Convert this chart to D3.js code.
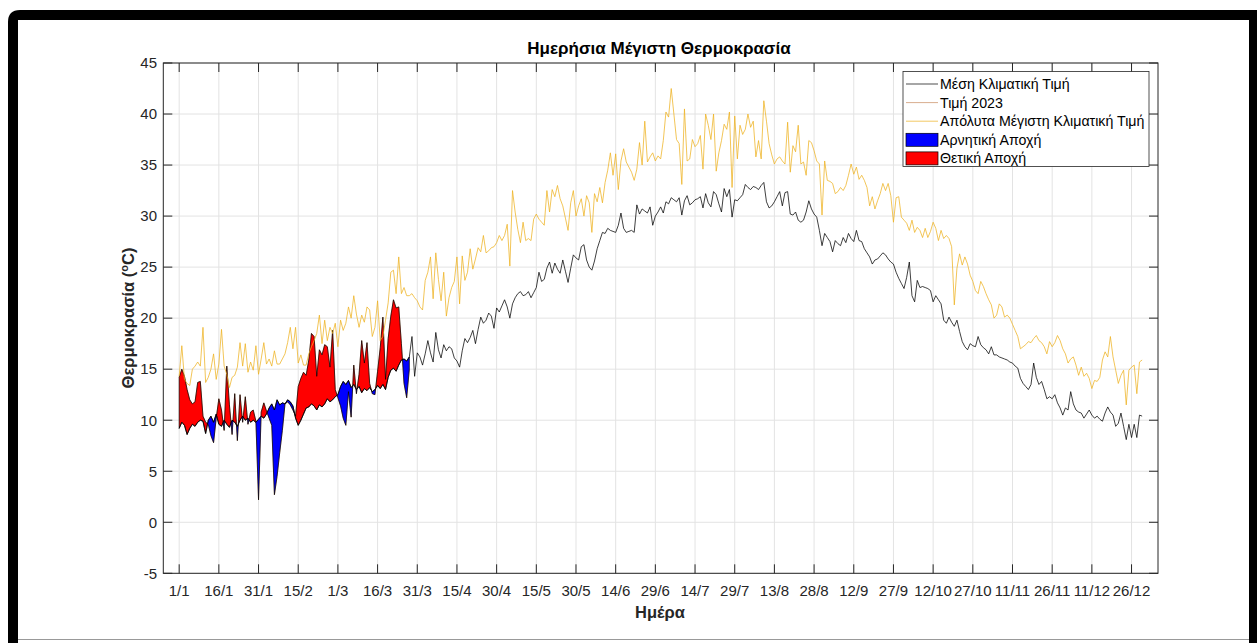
<!DOCTYPE html>
<html>
<head>
<meta charset="utf-8">
<script src="https://cdn.jsdelivr.net/npm/d3@7"></script>
<style>
  body { margin: 0; background: #fff; }
  svg { display: block; }
  text { font-family: "Liberation Sans", Arial, Helvetica, sans-serif; }
</style>
</head>
<body>
<svg width="1257" height="643"></svg>
<script>
// days 1..365, values
let meanClim = [
 9.2,9.8,9.5,8.6,9.2,9.6,9.4,9.8,10.0,9.9, 8.7,10.0,10.4,9.8,10.6,9.6,9.4,10.0,9.6,9.3,
 10.0,9.8,9.4,10.0,10.4,10.0,10.2,9.8,10.0,9.8, 10.1,10.4,10.2,10.6,11.2,11.6,11.0,12.0,11.5,11.7,
 11.6,12.0,11.8,11.4,10.2,9.5,10.0,10.6,11.2,11.3, 11.6,11.4,11.0,11.5,11.3,11.6,12.1,11.8,12.0,12.3,
 12.5,13.3,13.8,13.5,13.9,13.2,13.5,13.0,13.3,12.7, 13.1,12.9,13.2,12.8,13.0,13.4,13.1,13.5,13.0,14.2,
 14.9,15.1,14.8,15.4,15.9,16.0,15.8,16.2,18.2,14.3, 16.6,16.2,15.4,16.5,17.8,16.6,15.7,18.6,16.9,16.1,
 17.4,16.8,17.2,17.0,16.1,15.8,15.2,16.8,18.0,17.6, 18.1,18.8,17.5,18.9,20.1,19.5,19.8,20.5,20.2,19.0,
 21.0,20.6,21.2,21.8,21.1,20.0,21.4,22.0,22.4,22.6, 22.2,22.3,22.6,22.0,22.5,23.0,24.5,23.6,23.8,24.9,
 25.5,24.4,25.4,24.8,24.4,25.7,24.6,23.5,24.9,26.2, 25.9,25.7,27.0,27.2,25.7,25.0,24.7,25.6,26.8,27.6,
 28.4,28.3,28.8,28.6,28.5,28.4,29.1,30.3,28.8,28.4, 28.5,28.6,28.4,31.1,30.2,30.7,30.5,30.3,30.9,29.1,
 30.0,30.4,30.9,30.3,31.4,31.2,31.8,31.6,31.4,31.8, 30.1,31.5,32.0,31.1,31.3,31.6,31.7,31.9,30.8,32.2,
 31.3,30.9,32.4,32.1,31.2,30.4,32.7,31.9,32.6,29.9, 31.6,31.5,31.8,32.1,33.1,32.8,32.6,32.9,32.8,32.6,
 33.0,33.3,31.4,30.8,31.0,31.4,31.9,32.4,31.0,32.3, 32.4,30.2,30.1,30.4,29.6,29.4,29.6,30.4,31.5,30.7,
 30.2,29.9,28.6,27.1,28.3,27.9,27.5,26.5,27.6,27.3, 27.1,27.9,27.4,28.3,27.8,27.5,28.6,27.6,27.5,26.8,
 26.4,26.0,25.3,25.7,25.8,26.1,26.4,26.2,25.8,25.5, 25.3,24.5,23.9,23.4,22.9,24.0,25.5,22.2,21.6,23.7,
 23.0,23.1,23.0,22.9,22.7,21.6,22.2,21.8,21.4,19.8, 19.5,20.1,19.6,19.2,19.8,18.7,17.7,17.2,16.9,17.5,
 17.3,17.2,18.2,17.4,17.1,16.9,16.5,17.2,16.4,16.4, 16.2,16.1,16.0,15.9,15.7,15.6,15.3,15.1,14.1,13.6,
 13.3,13.0,13.5,15.6,14.2,13.5,13.8,13.0,12.1,12.3, 12.1,12.5,11.7,11.2,10.5,11.2,11.0,12.8,11.6,11.0,
 10.8,10.7,10.2,10.6,11.0,10.5,10.2,10.4,10.1,9.9, 10.7,11.3,10.8,10.5,9.4,9.7,10.7,9.4,8.1,9.6,
 8.3,9.6,8.3,10.5,10.4
];

let maxClim = [
 14.3,17.3,14.0,13.6,13.4,15.0,15.3,15.7,15.3,19.1, 13.7,14.2,15.0,16.5,14.0,15.5,18.9,15.3,14.5,13.2,
 14.2,14.4,15.2,17.6,15.3,17.5,14.7,15.7,14.9,17.3, 14.5,16.0,17.6,15.5,16.0,15.3,16.8,15.5,15.5,16.0,
 16.5,17.6,19.1,17.0,19.1,15.6,16.4,15.4,15.4,16.5, 17.2,17.8,18.5,20.3,17.5,19.8,17.8,19.1,18.5,19.5,
 17.2,19.8,18.8,19.5,21.1,20.0,22.2,20.4,19.1,20.3, 19.6,21.1,20.8,18.2,19.1,21.7,17.8,18.2,19.8,21.5,
 24.5,24.7,22.4,26.0,22.4,23.0,22.2,22.2,22.4,22.0, 21.7,21.1,20.8,23.7,24.5,26.0,21.9,26.4,23.8,21.7,
 24.5,20.2,22.0,23.0,23.6,26.0,21.4,26.1,23.7,24.5, 26.8,24.8,25.8,26.9,26.5,28.1,26.4,26.6,26.9,27.0,
 27.4,28.1,27.6,28.1,29.2,25.1,32.5,30.4,28.7,27.4, 29.4,27.6,27.8,27.6,29.7,30.2,29.7,29.4,29.1,32.5,
 30.4,32.6,31.9,33.0,31.7,31.0,29.8,28.6,31.3,32.5, 30.0,31.0,31.7,30.0,32.0,31.3,28.4,32.2,31.4,32.8,
 31.3,33.3,34.5,36.2,34.0,36.1,32.6,35.4,36.6,35.3, 34.8,34.3,33.5,34.6,37.2,35.0,39.3,35.3,35.8,36.2,
 35.4,35.9,35.6,37.4,40.2,39.7,42.5,40.0,37.5,37.1, 33.1,40.5,35.4,35.6,37.5,36.8,37.1,37.9,34.6,40.0,
 38.9,37.5,40.0,34.4,36.2,37.4,39.0,38.5,40.2,32.8, 39.8,35.6,38.9,38.0,38.5,40.0,38.7,39.3,35.8,37.4,
 35.6,41.3,39.3,37.1,36.0,35.1,35.6,35.8,35.4,35.1, 39.2,34.3,36.9,36.3,38.9,35.1,35.3,34.0,37.4,37.2,
 36.4,35.4,35.1,30.1,35.4,33.5,33.4,33.2,32.2,32.4, 32.8,32.5,33.0,34.0,35.1,34.1,34.8,33.6,34.0,33.5,
 32.8,31.0,31.9,30.7,31.5,32.2,33.2,32.5,33.2,32.0, 29.4,31.8,31.9,29.9,29.6,29.3,28.6,29.6,28.4,28.9,
 28.6,27.9,28.8,27.9,28.5,29.4,28.8,27.6,28.6,27.8, 28.1,27.8,27.0,21.3,24.9,26.3,25.2,26.0,25.3,24.2,
 23.6,22.7,22.4,23.6,23.1,22.4,21.8,21.3,20.0,20.3, 21.4,21.1,20.1,20.3,20.0,19.4,18.8,18.2,17.0,17.2,
 17.4,17.7,17.6,18.0,18.3,17.8,17.6,17.2,16.5,17.7, 17.2,17.6,18.3,17.8,17.0,16.5,15.6,16.0,16.2,15.4,
 14.4,15.2,14.3,14.6,14.1,13.1,13.9,13.8,14.2,15.9, 16.7,16.2,18.2,16.2,14.9,13.6,14.4,14.9,11.5,14.9,
 15.2,15.4,12.6,15.7,15.9
];

// 2023, days 1..88
let val2023 = [
 14.2,15.0,14.3,13.0,12.0,11.6,11.8,13.7,13.8,10.4, 9.8,9.6,8.5,7.8,10.2,12.1,11.0,9.0,15.3,11.5,
 8.6,12.6,8.0,12.5,9.8,12.3,9.6,10.8,11.0,9.9, 2.2,10.8,11.7,10.9,10.2,9.5,2.7,4.5,6.8,9.0,
 11.6,11.8,11.5,11.0,10.4,13.3,14.1,14.7,14.4,15.9, 18.5,18.2,14.3,16.9,16.4,17.4,17.2,15.2,18.8,13.0,
 12.2,11.4,10.2,9.5,12.8,10.3,15.4,12.6,14.5,17.8, 15.6,17.6,13.6,12.6,12.5,14.8,17.1,20.1,14.0,18.0,
 20.2,21.8,21.0,21.1,17.5,13.6,12.2,15.0
];

let tickDays = d3.range(1, 362, 15);
let tickLabels = ["1/1","16/1","31/1","15/2","1/3","16/3","31/3","15/4","30/4","15/5","30/5","14/6","29/6",
  "14/7","29/7","13/8","28/8","12/9","27/9","12/10","27/10","11/11","26/11","11/12","26/12"];
let yTicks = d3.range(-5, 46, 5);

let legendNames = ["Μέση Κλιματική Τιμή","Τιμή 2023","Απόλυτα Μέγιστη Κλιματική Τιμή","Αρνητική Αποχή","Θετική Αποχή"];
let colMean = "#000000", col2023 = "#C98A5E", colMax = "#EDB120", colNeg = "#0000FF", colPos = "#FF0000";

let svg = d3.select("svg");
let pLeft = 163.3, pRight = 1158, pTop = 63, pBottom = 573.3;

// outer frame of the screenshot
svg.append("path")
  .attr("d", "M8,643 L8,22 Q8,10 20,10 L1257,10 L1257,20 L18,20 L18,643 Z")
  .attr("fill", "#000");
svg.append("rect").attr("x", 1249).attr("y", 10).attr("width", 8).attr("height", 633).attr("fill", "#000");
svg.append("line").attr("x1", 18).attr("x2", 1249).attr("y1", 639.5).attr("y2", 639.5)
  .attr("stroke", "#999").attr("stroke-width", 1);

let x = d3.scaleLinear().domain([-5, 371]).range([pLeft, pRight]);
let y = d3.scaleLinear().domain([-5, 45]).range([pBottom, pTop]);

// grid
let grid = svg.append("g").attr("stroke", "#e3e3e3").attr("stroke-width", 1);
grid.selectAll(".gx").data(tickDays).enter().append("line")
  .attr("x1", d => x(d)).attr("x2", d => x(d)).attr("y1", pTop).attr("y2", pBottom);
grid.selectAll(".gy").data(yTicks).enter().append("line")
  .attr("x1", pLeft).attr("x2", pRight).attr("y1", d => y(d)).attr("y2", d => y(d));

let line = d3.line().x(d => x(d[0])).y(d => y(d[1]));
let plot = svg.append("g");

plot.append("path").datum(val2023.map((v, i) => [i + 1, v]))
  .attr("d", line).attr("fill", "none").attr("stroke", col2023).attr("stroke-width", 0.7);

// fills between 2023 and the mean, split where they cross
let runs = [];
let cur = null;
for (let i = 0; i < val2023.length; i++) {
  let a = val2023[i], m = meanClim[i], s = a >= m ? 1 : -1;
  if (cur && s !== cur.sign) {
    let pa = val2023[i - 1], pm = meanClim[i - 1];
    let t = (pa - pm) / ((pa - pm) - (a - m));
    let cv = pm + t * (m - pm);
    let cd = i + t;
    cur.pts.push({ d: cd, a: cv, m: cv });
    runs.push(cur);
    cur = { sign: s, pts: [{ d: cd, a: cv, m: cv }] };
  }
  if (!cur) cur = { sign: s, pts: [] };
  cur.pts.push({ d: i + 1, a: a, m: m });
}
runs.push(cur);

let area = d3.area().x(d => x(d.d)).y0(d => y(d.m)).y1(d => y(d.a));
plot.selectAll(".fill").data(runs).enter().append("path")
  .attr("d", r => area(r.pts) + "Z")
  .attr("fill", r => r.sign > 0 ? colPos : colNeg)
  .attr("stroke", "#000").attr("stroke-width", 0.7).attr("stroke-linejoin", "round");

plot.append("path").datum(maxClim.map((v, i) => [i + 1, v]))
  .attr("d", line).attr("fill", "none").attr("stroke", colMax).attr("stroke-width", 0.75);
plot.append("path").datum(meanClim.map((v, i) => [i + 1, v]))
  .attr("d", line).attr("fill", "none").attr("stroke", colMean).attr("stroke-width", 0.75);

// axes box with inward ticks on all sides
let axc = "#262626", tl = 9;
let ax = svg.append("g").attr("stroke", axc).attr("stroke-width", 1);
ax.append("rect").attr("x", pLeft).attr("y", pTop).attr("width", pRight - pLeft).attr("height", pBottom - pTop)
  .attr("fill", "none");
tickDays.forEach(d => {
  ax.append("line").attr("x1", x(d)).attr("x2", x(d)).attr("y1", pBottom).attr("y2", pBottom - tl);
  ax.append("line").attr("x1", x(d)).attr("x2", x(d)).attr("y1", pTop).attr("y2", pTop + tl);
});
yTicks.forEach(v => {
  ax.append("line").attr("x1", pLeft).attr("x2", pLeft + tl).attr("y1", y(v)).attr("y2", y(v));
  ax.append("line").attr("x1", pRight).attr("x2", pRight - tl).attr("y1", y(v)).attr("y2", y(v));
});

svg.append("g").selectAll("text").data(tickDays).enter().append("text")
  .attr("x", d => x(d)).attr("y", 596).attr("text-anchor", "middle")
  .attr("font-size", 15).attr("fill", axc).text((d, i) => tickLabels[i]);
svg.append("g").selectAll("text").data(yTicks).enter().append("text")
  .attr("x", 157).attr("y", d => y(d) + 5.3).attr("text-anchor", "end")
  .attr("font-size", 15).attr("fill", axc).text(d => d);

// labels
svg.append("text").attr("x", 659).attr("y", 54).attr("text-anchor", "middle")
  .attr("font-size", 17).attr("font-weight", "bold").attr("fill", "#000")
  .text("Ημερήσια Μέγιστη Θερμοκρασία");
svg.append("text").attr("x", 660).attr("y", 618).attr("text-anchor", "middle")
  .attr("font-size", 16.5).attr("font-weight", "bold").attr("fill", axc).text("Ημέρα");
let yl = svg.append("text").attr("transform", "translate(134,318) rotate(-90)")
  .attr("text-anchor", "middle").attr("font-size", 16.5).attr("font-weight", "bold").attr("fill", axc);
yl.append("tspan").text("Θερμοκρασία (");
yl.append("tspan").attr("font-size", 11).attr("dy", -6).text("o");
yl.append("tspan").attr("dy", 6).text("C)");

// legend
let lg = svg.append("g");
lg.append("rect").attr("x", 903).attr("y", 71.5).attr("width", 246).attr("height", 95)
  .attr("fill", "#fff").attr("stroke", axc).attr("stroke-width", 0.8);
let rowY = d => 84 + d * 18.6;
let kinds = [colMean, col2023, colMax, colNeg, colPos];
kinds.forEach((c, i) => {
  if (i < 3) {
    lg.append("line").attr("x1", 906).attr("x2", 938).attr("y1", rowY(i)).attr("y2", rowY(i))
      .attr("stroke", c).attr("stroke-width", 0.7);
  } else {
    lg.append("rect").attr("x", 906).attr("y", rowY(i) - 6.5).attr("width", 32).attr("height", 13)
      .attr("fill", c).attr("stroke", "#000").attr("stroke-width", 0.7);
  }
  lg.append("text").attr("x", 940).attr("y", rowY(i) + 5).attr("font-size", 14.2).attr("fill", "#000")
    .text(legendNames[i]);
});
</script>
</body>
</html>
